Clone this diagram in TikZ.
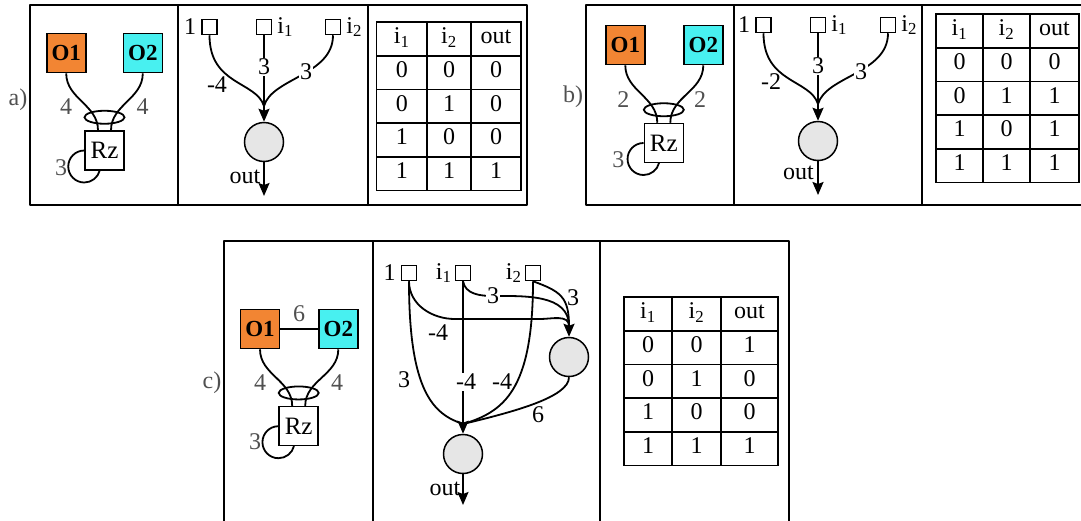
\documentclass[tikz,border=0pt]{standalone}
\usepackage{fontspec}
\setmainfont{Liberation Serif}
\usepackage{tkz-euclide}
\usetikzlibrary{arrows.meta,positioning}

\definecolor{orangeO}{HTML}{F28533}
\definecolor{cyanO}{HTML}{48F0F0}
\definecolor{somagray}{HTML}{E6E6E6}
\definecolor{labgray}{HTML}{505050}

\newcommand\ii[1]{i\textsubscript{#1}}

\tikzset{
	panelframe/.style={line width=2pt},
	obj/.style={draw,line width=1.6pt,minimum size=39pt,inner sep=0pt,font=\fontsize{23}{23}\selectfont\bfseries},
	rzbox/.style={draw,line width=1.5pt,fill=white,minimum size=39pt,inner sep=0pt,font=\fontsize{25}{25}\selectfont},
	inbox/.style={draw,line width=1.5pt,minimum size=15pt,inner sep=0pt},
	soma/.style={draw,circle,line width=1.5pt,fill=somagray,minimum size=39pt,inner sep=0pt},
	syn/.style={line width=1.8pt},
	arr/.style={syn,-{Stealth[length=13pt,width=11pt,inset=2pt]}},
	glab/.style={text=labgray,inner sep=1pt},
	wlab/.style={inner sep=1pt},
	wcut/.style={fill=white,inner sep=1pt},
	tabline/.style={line width=1.8pt},
	cell/.style={inner sep=0pt,text height=15pt,text depth=5pt}
}

\newcommand\truthtab[7]{%
	\draw[tabline] (#2,#6) rectangle (#5,#6-168.5);
	\foreach \k in {1,...,4}
		\draw[tabline] (#2,#6-33.7*\k) -- (#5,#6-33.7*\k);
	\draw[tabline] (#3,#6) -- (#3,#6-168.5) (#4,#6) -- (#4,#6-168.5);
	\foreach \p/\q/\s [count=\r from 0] in {\ii{1}/\ii{2}/out,#7}{
		\node[cell] (#1-\r-1) at ({(#2+#3)/2},#6-33.7*\r-16.85) {\p};
		\node[cell] (#1-\r-2) at ({(#3+#4)/2},#6-33.7*\r-16.85) {\q};
		\node[cell] (#1-\r-3) at ({(#4+#5)/2},#6-33.7*\r-16.85) {\s};
	}%
}

\begin{document}
\begin{tikzpicture}[x=1pt,y=1pt,font=\fontsize{24}{28}\selectfont]
		\useasboundingbox (0,0) rectangle (1081,-520);
		\fill[white] (0,0) rectangle (1081,-520);
		\tkzDefPoints{30/-5/aNW,527/-5/aNE,527/-205/aSE,30/-205/aSW,178/-5/aDa,178/-205/aDb,368/-5/aDc,368/-205/aDd}
		\tkzDefPoints{586/-5/bNW,1095/-5/bNE,1095/-205/bSE,586/-205/bSW,734/-5/bDa,734/-205/bDb,922/-5/bDc,922/-205/bDd}
		\tkzDefPoints{224/-241/cNW,789/-241/cNE,789/-530/cSE,224/-530/cSW,373/-241/cDa,373/-530/cDb,600/-241/cDc,600/-530/cDd}
		\tkzDrawPolygon[panelframe](aNW,aNE,aSE,aSW)
		\tkzDrawPolygon[panelframe](bNW,bNE,bSE,bSW)
		\tkzDrawPolygon[panelframe](cNW,cNE,cSE,cSW)
		\tkzDrawSegments[panelframe](aDa,aDb aDc,aDd bDa,bDb bDc,bDd cDa,cDb cDc,cDd)

		\node[glab] (alab) at (18,-100) {a)};
		\node[obj,fill=orangeO] (aO1) at (66.2,-53) {O1};
		\node[obj,fill=cyanO] (aO2) at (142.8,-53) {O2};
		\node[rzbox] (aRz) at (104.5,-150.5) {Rz};
		\draw[syn] (aO1.south) to[out=-90,in=90] ([xshift=-6.5pt]aRz.north);
		\draw[syn] (aO2.south) to[out=-90,in=90] ([xshift=6.5pt]aRz.north);
		\draw[syn] ([yshift=13pt]aRz.north) ellipse[x radius=20,y radius=6.5];
		\draw[syn] (aRz.west) arc[start angle=90,end angle=346,radius=16];
		\node[glab] (aw1) at (66,-107) {4};
		\node[glab] (aw2) at (142.7,-107) {4};
		\node[glab] (aw3) at (61,-168) {3};

		\node[inbox] (ab1) at (209.5,-27) {};
		\node[inbox] (ai1) at (264,-27) {};
		\node[inbox] (ai2) at (333,-27) {};
		\node[wlab,left=4pt of ab1] (ab1t) {1};
		\node[wlab,right=4pt of ai1] (ai1t) {\ii{1}};
		\node[wlab,right=4pt of ai2] (ai2t) {\ii{2}};
		\node[soma] (aN) at (264,-142) {};
		\coordinate (aJ) at (264,-106);
		\coordinate (aEnd) at (264,-196);
		\draw[syn] (ab1.south) .. controls +(0,-50) and +(-8,25) .. (aJ);
		\draw[syn] (ai1.south) -- (aJ);
		\draw[syn] (ai2.south) .. controls +(0,-40) and +(8,28) .. (aJ);
		\draw[arr] (aJ) -- (aN.north);
		\draw[arr] (aN.south) -- (aEnd);
		\node[wcut] (aw4) at (264,-67) {3};
		\node[wlab] (aw5) at (217,-85) {-4};
		\node[wcut] (aw6) at (306,-72) {3};
		\node[wlab] (aout) at (245,-177) {out};
		\truthtab{ta}{376.5}{427}{471}{521}{-22}{0/0/0,0/1/0,1/0/0,1/1/1}

		\node[glab] (blab) at (573,-97) {b)};
		\node[obj,fill=orangeO] (bO1) at (625.3,-45) {O1};
		\node[obj,fill=cyanO] (bO2) at (703.3,-45) {O2};
		\node[rzbox] (bRz) at (663.8,-143) {Rz};
		\draw[syn] (bO1.south) to[out=-90,in=90] ([xshift=-6.5pt]bRz.north);
		\draw[syn] (bO2.south) to[out=-90,in=90] ([xshift=6.5pt]bRz.north);
		\draw[syn] ([yshift=13pt]bRz.north) ellipse[x radius=20,y radius=6.5];
		\draw[syn] (bRz.west) arc[start angle=90,end angle=346,radius=16];
		\node[glab] (bw1) at (623.3,-100) {2};
		\node[glab] (bw2) at (700,-100) {2};
		\node[glab] (bw3) at (618.3,-160) {3};

		\node[inbox] (bb1) at (763.5,-25) {};
		\node[inbox] (bi1) at (818,-25) {};
		\node[inbox] (bi2) at (888,-25) {};
		\node[wlab,left=4pt of bb1] (bb1t) {1};
		\node[wlab,right=4pt of bi1] (bi1t) {\ii{1}};
		\node[wlab,right=4pt of bi2] (bi2t) {\ii{2}};
		\node[soma] (bN) at (818,-141) {};
		\coordinate (bJ) at (818,-104);
		\coordinate (bEnd) at (818,-195);
		\draw[syn] (bb1.south) .. controls +(0,-50) and +(-8,25) .. (bJ);
		\draw[syn] (bi1.south) -- (bJ);
		\draw[syn] (bi2.south) .. controls +(0,-40) and +(8,28) .. (bJ);
		\draw[arr] (bJ) -- (bN.north);
		\draw[arr] (bN.south) -- (bEnd);
		\node[wcut] (bw4) at (818,-66) {3};
		\node[wlab] (bw5) at (771,-82) {-2};
		\node[wcut] (bw6) at (861,-72) {3};
		\node[wlab] (bout) at (798.5,-173) {out};
		\truthtab{tb}{936}{983}{1030}{1079}{-14}{0/0/0,0/1/1,1/0/1,1/1/1}

		\node[glab] (clab) at (212,-383) {c)};
		\node[obj,fill=orangeO] (cO1) at (260,-329) {O1};
		\node[obj,fill=cyanO] (cO2) at (338.3,-329) {O2};
		\node[rzbox] (cRz) at (298.7,-426.2) {Rz};
		\draw[line width=1.2pt] (cO1) -- (cO2);
		\draw[syn] (cO1.south) to[out=-90,in=90] ([xshift=-6.5pt]cRz.north);
		\draw[syn] (cO2.south) to[out=-90,in=90] ([xshift=6.5pt]cRz.north);
		\draw[syn] ([yshift=13pt]cRz.north) ellipse[x radius=20,y radius=6.5];
		\draw[syn] (cRz.west) arc[start angle=90,end angle=346,radius=16];
		\node[glab] (cw0) at (299,-314) {6};
		\node[glab] (cw1) at (260,-383) {4};
		\node[glab] (cw2) at (337,-383) {4};
		\node[glab] (cw3) at (255,-442) {3};

		\node[inbox] (cb1) at (409,-273) {};
		\node[inbox] (ci1) at (463,-273) {};
		\node[inbox] (ci2) at (533,-273) {};
		\node[wlab,left=4pt of cb1] (cb1t) {1};
		\node[wlab,left=2pt of ci1] (ci1t) {\ii{1}};
		\node[wlab,left=2pt of ci2] (ci2t) {\ii{2}};
		\node[soma] (cH) at (569,-357) {};
		\node[soma] (cN) at (463,-454) {};
		\coordinate (cHJ) at (569,-326);
		\coordinate (cJ) at (463,-424);
		\coordinate (cEnd) at (463,-505);
		\coordinate (ck1) at (455,-319);
		\coordinate (ck2) at (540,-319);
		\coordinate (ck3) at (493,-296);
		\draw[syn] (cb1.south) to[out=-90,in=180] (ck1) -- (ck2) to[out=0,in=90] (cHJ);
		\draw[syn] (ci1.south) to[out=-80,in=180] (ck3) to[out=0,in=90] (cHJ);
		\draw[syn] (ci2.south) to[out=-20,in=90,looseness=1.3] (cHJ);
		\draw[arr] (cHJ) -- (cH.north);
		\draw[syn] (cb1.south) .. controls +(0,-110) and +(-30,10) .. (cJ);
		\draw[syn] (ci1.south) -- (cJ);
		\draw[syn] (ci2.south) .. controls +(0,-110) and +(40,12) .. (cJ);
		\draw[syn] (cH.south) .. controls +(0,-20) and +(50,12) .. (cJ);
		\draw[arr] (cJ) -- (cN.north);
		\draw[arr] (cN.south) -- (cEnd);
		\node[wcut] (cw4) at (ck3) {3};
		\node[wlab] (cw5) at (573,-298) {3};
		\node[wlab] (cw6) at (438,-333) {-4};
		\node[wlab] (cw7) at (404,-380) {3};
		\node[wcut] (cw8) at (466,-382) {-4};
		\node[wlab] (cw9) at (502,-382) {-4};
		\node[wlab] (cw10) at (538,-415) {6};
		\node[wlab] (cout) at (445,-489) {out};
		\truthtab{tc}{624}{672}{721}{778}{-297}{0/0/1,0/1/0,1/0/0,1/1/1}
\end{tikzpicture}
\end{document}
